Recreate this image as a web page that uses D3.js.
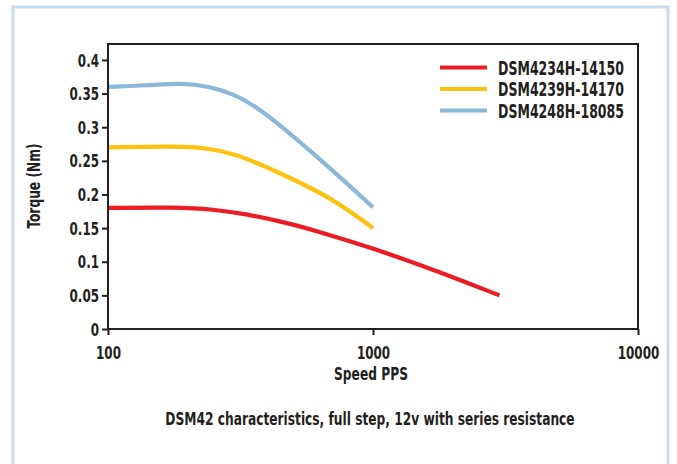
<!DOCTYPE html>
<html>
<head>
<meta charset="utf-8">
<script src="https://cdn.jsdelivr.net/npm/d3@7"></script>
<style>
html,body{margin:0;padding:0;background:#fff;}
svg text{font-family:"DejaVu Sans Condensed","DejaVu Sans",sans-serif;font-stretch:condensed;font-weight:bold;fill:#231f20;}
</style>
</head>
<body>
<svg id="chart" width="677" height="464"></svg>
<script>
const seriesNames = ["DSM4234H-14150", "DSM4239H-14170", "DSM4248H-18085"];
const seriesColors = ["#ec1c24", "#fdc20f", "#8bb8d9"];
const speedRed = [100, 180, 250, 330, 450, 600, 1000, 1700, 3000];
const torqueRed = [0.180, 0.181, 0.178, 0.171, 0.160, 0.147, 0.120, 0.088, 0.050];
const speedYellow = [100, 180, 240, 300, 360, 450, 700, 1000];
const torqueYellow = [0.270, 0.272, 0.269, 0.260, 0.248, 0.231, 0.195, 0.150];
const speedBlue = [100, 140, 190, 240, 300, 360, 450, 700, 1000];
const torqueBlue = [0.360, 0.362, 0.366, 0.361, 0.349, 0.331, 0.302, 0.237, 0.181];
const xTicks = [100, 1000, 10000];
const yTicks = [0, 0.05, 0.1, 0.15, 0.2, 0.25, 0.3, 0.35, 0.4];
const xTitle = "Speed PPS";
const yTitle = "Torque (Nm)";
const caption = "DSM42 characteristics, full step, 12v with series resistance";

const svg = d3.select("#chart");
function condense(sel, ratio) {
  sel.each(function () {
    const w = this.getComputedTextLength();
    d3.select(this).attr("textLength", w * ratio).attr("lengthAdjust", "spacingAndGlyphs");
  });
}
// outer frame (open at bottom)
svg.append("path")
  .attr("d", "M13,464 L13,7 L668,7 L668,464")
  .attr("fill", "none").attr("stroke", "#c8dcee").attr("stroke-width", 3);

const L = 108, R = 638, T = 44, B = 329;
const x = d3.scaleLog().domain([100, 10000]).range([L, R]);
const y = d3.scaleLinear().domain([0, 0.4237]).range([B, T]);

const series = [
  {name: seriesNames[0], color: seriesColors[0], xs: speedRed, ys: torqueRed},
  {name: seriesNames[1], color: seriesColors[1], xs: speedYellow, ys: torqueYellow},
  {name: seriesNames[2], color: seriesColors[2], xs: speedBlue, ys: torqueBlue}
];

const line = d3.line().x(d => x(d[0])).y(d => y(d[1])).curve(d3.curveBasis);
series.forEach(s => {
  svg.append("path")
    .datum(s.xs.map((v, i) => [v, s.ys[i]]))
    .attr("d", line)
    .attr("fill", "none").attr("stroke", s.color).attr("stroke-width", 4.2);
});

// plot frame
svg.append("rect").attr("x", L).attr("y", T).attr("width", R - L).attr("height", B - T)
  .attr("fill", "none").attr("stroke", "#231f20").attr("stroke-width", 2);

const xAxis = svg.append("g").attr("transform", `translate(0,${B})`)
  .call(d3.axisBottom(x).tickValues(xTicks).tickFormat(d3.format("d")).tickSize(6).tickSizeOuter(0));
const yAxis = svg.append("g").attr("transform", `translate(${L},0)`)
  .call(d3.axisLeft(y).tickValues(yTicks).tickFormat(d => d === 0 ? "0" : String(d)).tickSize(6).tickSizeOuter(0));
[xAxis, yAxis].forEach(a => {
  a.select(".domain").remove();
  a.selectAll(".tick line").attr("stroke", "#231f20").attr("stroke-width", 2);
  a.selectAll("text").attr("font-size", 17).attr("font-family", null).attr("fill", "#231f20");
});
xAxis.selectAll("text").attr("dy", null).attr("y", 30);
yAxis.selectAll("text").attr("x", -9).attr("dy", "0.36em");
condense(xAxis.selectAll("text"), 0.78);
condense(yAxis.selectAll("text"), 0.78);

const t1 = svg.append("text").attr("x", 371).attr("y", 380).attr("text-anchor", "middle")
  .attr("font-size", 17).text(xTitle);
const t2 = svg.append("text").attr("transform", "translate(40,186) rotate(-90)").attr("text-anchor", "middle")
  .attr("font-size", 17).text(yTitle);
condense(t1, 0.8); condense(t2, 0.8);
const t3 = svg.append("text").attr("transform", "translate(370,425) scale(0.8,1)").attr("text-anchor", "middle")
  .attr("font-size", 17).text(caption);

// legend
const lg = svg.append("g");
series.forEach((s, i) => {
  const ly = 67.5 + i * 21.5;
  lg.append("line").attr("x1", 440).attr("x2", 487).attr("y1", ly).attr("y2", ly)
    .attr("stroke", s.color).attr("stroke-width", 4.2);
  lg.append("text").attr("x", 498).attr("y", ly).attr("dy", "0.37em")
    .attr("font-size", 19).attr("textLength", 126).attr("lengthAdjust", "spacingAndGlyphs").text(s.name);
});
</script>
</body>
</html>
